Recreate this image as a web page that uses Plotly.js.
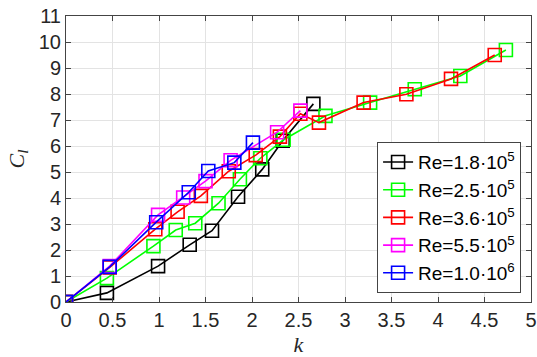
<!DOCTYPE html>
<html>
<head>
<meta charset="utf-8">
<script src="https://cdn.plot.ly/plotly-3.0.1.min.js"></script>
<style>html,body{margin:0;padding:0;background:#fff;}#chart{width:537px;height:357px;}</style>
</head>
<body>
<div id="chart"></div>
<script>
const seriesNames = ["Re=1.8·10<sup>5</sup>", "Re=2.5·10<sup>5</sup>", "Re=3.6·10<sup>5</sup>", "Re=5.5·10<sup>5</sup>", "Re=1.0·10<sup>6</sup>"];
const seriesColors = ["#000000", "#00ff00", "#ff0000", "#ff00ff", "#0000ff"];

const kRe18 = [0, 0.44, 0.99, 1.33, 1.57, 1.85, 2.11, 2.33, 2.66];
const clRe18 = [0, 0.35, 1.38, 2.2, 2.74, 4.05, 5.1, 6.2, 7.62];

const kRe25 = [0, 0.44, 0.94, 1.18, 1.39, 1.64, 1.87, 2.09, 2.34, 2.79, 3.27, 3.75, 4.24, 4.73];
const clRe25 = [0, 0.92, 2.15, 2.77, 3.03, 3.8, 4.72, 5.53, 6.24, 7.16, 7.67, 8.18, 8.69, 9.69];

const kRe36 = [0, 0.47, 0.96, 1.2, 1.45, 1.75, 2.04, 2.3, 2.52, 2.72, 3.2, 3.66, 4.14, 4.61];
const clRe36 = [0, 1.33, 2.8, 3.47, 4.08, 5.03, 5.65, 6.36, 7.24, 6.9, 7.67, 7.99, 8.58, 9.5];

const kRe55 = [0, 0.47, 0.99, 1.26, 1.5, 1.77, 2.27, 2.52];
const clRe55 = [0, 1.38, 3.35, 4.02, 4.65, 5.45, 6.53, 7.36];

const kRe100 = [0, 0.47, 0.97, 1.32, 1.53, 1.81, 2.01];
const clRe100 = [0, 1.35, 3.07, 4.22, 5.04, 5.36, 6.13];

const xs = [kRe18, kRe25, kRe36, kRe55, kRe100];
const ys = [clRe18, clRe25, clRe36, clRe55, clRe100];

const traces = xs.map((x, i) => ({
  x: x, y: ys[i], name: seriesNames[i], type: 'scatter', mode: 'lines+markers',
  line: {color: seriesColors[i], width: 1.6},
  marker: {symbol: 'square-open', size: 13, color: seriesColors[i], line: {width: 1.6, color: seriesColors[i]}}
}));

const tickFont = {family: 'Liberation Sans, Arial, sans-serif', size: 20, color: '#262626'};
const layout = {
  width: 537, height: 357,
  margin: {l: 66, r: 6, t: 16, b: 55},
  paper_bgcolor: '#fff', plot_bgcolor: '#fff',
  showlegend: true,
  xaxis: {
    range: [0, 5], dtick: 0.5, tick0: 0,
    ticks: 'inside', ticklen: 5, tickcolor: '#444', mirror: 'ticks',
    showline: true, linecolor: '#444', linewidth: 1,
    showgrid: true, gridcolor: '#e3e3e3', gridwidth: 1, zeroline: false,
    tickfont: tickFont, ticklabelstandoff: 0,
    title: {text: '<i>k</i>', font: {family: 'Liberation Serif, serif', size: 22, color: '#262626'}, standoff: 7}
  },
  yaxis: {
    range: [0, 11], dtick: 1, tick0: 0,
    ticks: 'inside', ticklen: 5, tickcolor: '#444', mirror: 'ticks',
    showline: true, linecolor: '#444', linewidth: 1,
    showgrid: true, gridcolor: '#e3e3e3', gridwidth: 1, zeroline: false,
    tickfont: tickFont, ticklabelstandoff: 0,
    title: {text: '<i>C<sub>l</sub></i>', font: {family: 'Liberation Serif, serif', size: 22, color: '#262626'}, standoff: 8}
  },
  legend: {
    x: 0.669, y: 0.559, xanchor: 'left', yanchor: 'top',
    bgcolor: '#fff', bordercolor: '#444', borderwidth: 1,
    font: {family: 'Liberation Sans, Arial, sans-serif', size: 19, color: '#000'}
  }
};

Plotly.newPlot('chart', traces, layout, {displayModeBar: false, staticPlot: true});
</script>
</body>
</html>
